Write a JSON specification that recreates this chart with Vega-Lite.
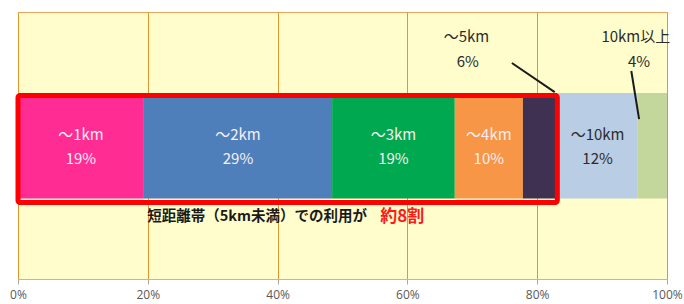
{
  "$schema": "https://vega.github.io/schema/vega-lite/v6.json",
  "width": 649,
  "height": 267,
  "autosize": {"type": "none"},
  "padding": {"left": 18, "top": 12, "right": 17, "bottom": 25},
  "background": "white",
  "config": {
    "view": {"fill": "#FFFDCC", "stroke": "#E8A35A", "strokeWidth": 1},
    "font": "Noto Sans CJK JP"
  },
  "data": {
    "values": [
      {"cat": "～1km", "pct": 19.4, "label": "19%", "order": 1},
      {"cat": "～2km", "pct": 29.0, "label": "29%", "order": 2},
      {"cat": "～3km", "pct": 18.9, "label": "19%", "order": 3},
      {"cat": "～4km", "pct": 10.5, "label": "10%", "order": 4},
      {"cat": "～5km", "pct": 5.3, "label": "6%", "order": 5},
      {"cat": "～10km", "pct": 12.4, "label": "12%", "order": 6},
      {"cat": "10km以上", "pct": 4.5, "label": "4%", "order": 7}
    ]
  },
  "transform": [
    {"stack": "pct", "groupby": [], "sort": [{"field": "order", "order": "ascending"}], "as": ["x0", "x1"]},
    {"calculate": "(datum.x0 + datum.x1) / 2", "as": "mid"}
  ],
  "layer": [
    {
      "mark": {"type": "bar"},
      "encoding": {
        "x": {
          "field": "x0", "type": "quantitative",
          "scale": {"domain": [0, 100], "nice": false},
          "axis": {
            "values": [0, 20, 40, 60, 80, 100],
            "labelExpr": "datum.value + '%'",
            "title": null,
            "grid": true,
            "gridColor": "#E2962F",
            "gridOpacity": 1,
            "domainColor": "#C8B496",
            "tickColor": "#A8A8A8",
            "tickSize": 5,
            "labelColor": "#595959",
            "labelFontSize": 12,
            "labelFont": "Open Sans",
            "labelPadding": 5,
            "labelFlush": false
          }
        },
        "x2": {"field": "x1"},
        "y": {"datum": 30.15, "type": "quantitative", "scale": {"domain": [0, 100], "nice": false}, "axis": null},
        "y2": {"datum": 69.66},
        "color": {
          "field": "cat", "type": "nominal", "legend": null,
          "scale": {
            "domain": ["～1km", "～2km", "～3km", "～4km", "～5km", "～10km", "10km以上"],
            "range": ["#FF2D93", "#4F7FBB", "#00A94F", "#F79646", "#3F3151", "#B9CDE5", "#C3D69B"]
          }
        }
      }
    },
    {
      "transform": [{"filter": "datum.order == 5"}],
      "mark": {"type": "rect", "filled": false, "stroke": "#FF0000", "strokeWidth": 5, "cornerRadius": 2},
      "encoding": {
        "x": {"field": "x1", "type": "quantitative"},
        "x2": {"datum": 0},
        "y": {"datum": 28.65, "type": "quantitative"},
        "y2": {"datum": 68.73}
      }
    },
    {
      "transform": [{"filter": "datum.order != 5 && datum.order != 7"}],
      "mark": {"type": "text", "fontSize": 15, "dy": -12, "align": "center", "baseline": "middle"},
      "encoding": {
        "x": {"field": "mid", "type": "quantitative"},
        "y": {"datum": 49.5, "type": "quantitative"},
        "text": {"field": "cat", "type": "nominal"},
        "color": {"condition": {"test": "datum.order == 6", "value": "#2B2B2B"}, "value": "#F6EEF2"}
      }
    },
    {
      "transform": [{"filter": "datum.order != 5 && datum.order != 7"}],
      "mark": {"type": "text", "fontSize": 15, "dy": 12, "align": "center", "baseline": "middle"},
      "encoding": {
        "x": {"field": "mid", "type": "quantitative"},
        "y": {"datum": 49.5, "type": "quantitative"},
        "text": {"field": "label", "type": "nominal"},
        "color": {"condition": {"test": "datum.order == 6", "value": "#2B2B2B"}, "value": "#F6EEF2"}
      }
    },
    {
      "transform": [{"filter": "datum.order == 5"}],
      "mark": {"type": "text", "fontSize": 15, "color": "#2B2B2B", "align": "center", "baseline": "middle"},
      "encoding": {
        "x": {"datum": 69.1, "type": "quantitative"},
        "y": {"datum": 90.6, "type": "quantitative"},
        "text": {"field": "cat", "type": "nominal"}
      }
    },
    {
      "transform": [{"filter": "datum.order == 5"}],
      "mark": {"type": "text", "fontSize": 15, "color": "#2B2B2B", "align": "center", "baseline": "middle"},
      "encoding": {
        "x": {"datum": 69.3, "type": "quantitative"},
        "y": {"datum": 81.3, "type": "quantitative"},
        "text": {"field": "label", "type": "nominal"}
      }
    },
    {
      "transform": [{"filter": "datum.order == 7"}],
      "mark": {"type": "text", "fontSize": 15, "color": "#2B2B2B", "align": "center", "baseline": "middle"},
      "encoding": {
        "x": {"datum": 95.2, "type": "quantitative"},
        "y": {"datum": 90.6, "type": "quantitative"},
        "text": {"field": "cat", "type": "nominal"}
      }
    },
    {
      "transform": [{"filter": "datum.order == 7"}],
      "mark": {"type": "text", "fontSize": 15, "color": "#2B2B2B", "align": "center", "baseline": "middle"},
      "encoding": {
        "x": {"datum": 95.7, "type": "quantitative"},
        "y": {"datum": 81.3, "type": "quantitative"},
        "text": {"field": "label", "type": "nominal"}
      }
    },
    {
      "transform": [{"filter": "datum.order == 5"}],
      "mark": {"type": "rule", "color": "#1A1A1A", "strokeWidth": 2},
      "encoding": {
        "x": {"datum": 76.1, "type": "quantitative"},
        "x2": {"datum": 82.7},
        "y": {"datum": 80.9, "type": "quantitative"},
        "y2": {"datum": 70.0}
      }
    },
    {
      "transform": [{"filter": "datum.order == 7"}],
      "mark": {"type": "rule", "color": "#1A1A1A", "strokeWidth": 2},
      "encoding": {
        "x": {"datum": 94.5, "type": "quantitative"},
        "x2": {"datum": 95.7},
        "y": {"datum": 77.9, "type": "quantitative"},
        "y2": {"datum": 59.9}
      }
    },
    {
      "transform": [{"filter": "datum.order == 1"}],
      "mark": {"type": "text", "text": "短距離帯（5km未満）での利用が", "fontSize": 14.5, "fontWeight": "bold", "color": "#1A1A1A", "align": "left", "baseline": "middle"},
      "encoding": {
        "x": {"datum": 19.9, "type": "quantitative"},
        "y": {"datum": 23.2, "type": "quantitative"}
      }
    },
    {
      "transform": [{"filter": "datum.order == 1"}],
      "mark": {"type": "text", "text": "約8割", "fontSize": 17, "fontWeight": "bold", "color": "#FF1A1A", "align": "left", "baseline": "middle"},
      "encoding": {
        "x": {"datum": 55.8, "type": "quantitative"},
        "y": {"datum": 23.2, "type": "quantitative"}
      }
    }
  ]
}
